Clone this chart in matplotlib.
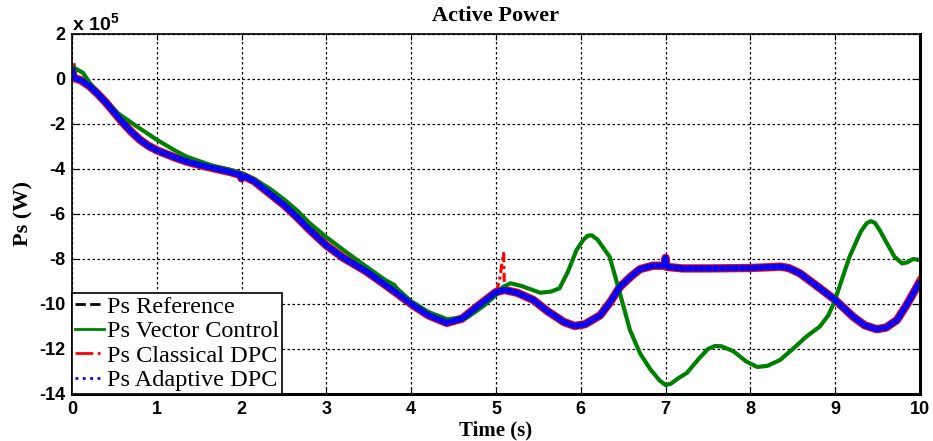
import matplotlib.pyplot as plt
from matplotlib.lines import Line2D
import numpy as np

plt.rcParams['axes.unicode_minus'] = False
plt.rcParams['mathtext.fontset'] = 'custom'
plt.rcParams['mathtext.rm'] = 'Liberation Sans:bold'
plt.rcParams['mathtext.it'] = 'Liberation Sans:bold'
plt.rcParams['mathtext.bf'] = 'Liberation Sans:bold'

# time (s) and stator active power (x 1e5 W)
t_ref = [0, 0.02, 0.1, 0.2, 0.3, 0.4, 0.5, 0.6, 0.7, 0.8, 0.9, 1.0, 1.2, 1.35, 1.5,
         1.67, 1.85, 1.99, 2.0, 2.02, 2.15, 2.33, 2.5, 2.65, 2.8, 3.0, 3.2, 3.47, 3.75,
         4.0, 4.2, 4.42, 4.6, 4.8, 5.0, 5.1, 5.25, 5.44, 5.6, 5.8, 5.93, 6.05, 6.23,
         6.35, 6.46, 6.6, 6.7, 6.85, 6.99, 7.0, 7.01, 7.2, 7.5, 8.0, 8.2, 8.35, 8.45,
         8.58, 8.75, 9.0, 9.21, 9.35, 9.49, 9.6, 9.73, 9.85, 10.0]
p_ref = [0.5, 0.05, -0.05, -0.3, -0.65, -1.05, -1.5, -1.95, -2.35, -2.7, -2.97, -3.17,
         -3.47, -3.67, -3.82, -3.97, -4.12, -4.27, -4.42, -4.3, -4.55, -5.09, -5.6,
         -6.13, -6.7, -7.4, -7.95, -8.55, -9.3, -10.0, -10.5, -10.84, -10.65, -10.05,
         -9.47, -9.38, -9.5, -9.82, -10.3, -10.8, -10.98, -10.9, -10.5, -9.9, -9.25,
         -8.75, -8.45, -8.3, -8.3, -7.95, -8.35, -8.42, -8.42, -8.4, -8.37, -8.34,
         -8.4, -8.63, -9.1, -9.82, -10.56, -10.95, -11.12, -11.05, -10.71, -10.0, -9.0]

t_vc = [0, 0.13, 0.21, 0.37, 0.55, 0.76, 1.0, 1.2, 1.35, 1.5, 1.67, 1.85, 2.0, 2.15,
        2.33, 2.5, 2.65, 2.8, 3.0, 3.2, 3.47, 3.7, 3.8, 3.83, 4.0, 4.2, 4.42, 4.66,
        4.85, 5.0, 5.08, 5.17, 5.3, 5.52, 5.65, 5.75, 5.85, 5.95, 6.03, 6.08, 6.13,
        6.2, 6.34, 6.46, 6.58, 6.7, 6.82, 6.93, 7.0, 7.06, 7.15, 7.25, 7.4, 7.5,
        7.58, 7.66, 7.8, 7.95, 8.08, 8.2, 8.35, 8.5, 8.66, 8.82, 8.92, 9.0, 9.08,
        9.17, 9.3, 9.37, 9.42, 9.47, 9.53, 9.61, 9.7, 9.79, 9.85, 9.92, 10.0]
p_vc = [0.55, 0.27, -0.18, -0.9, -1.55, -2.1, -2.7, -3.15, -3.45, -3.65, -3.87, -4.02,
        -4.19, -4.45, -4.87, -5.35, -5.83, -6.4, -7.03, -7.6, -8.34, -8.95, -9.15,
        -9.3, -9.88, -10.35, -10.67, -10.6, -10.1, -9.6, -9.25, -9.08, -9.2, -9.5,
        -9.45, -9.3, -8.55, -7.6, -7.15, -6.97, -6.95, -7.15, -7.9, -9.5, -11.16,
        -12.2, -12.9, -13.4, -13.6, -13.55, -13.3, -13.07, -12.4, -12.0, -11.87,
        -11.88, -12.1, -12.55, -12.8, -12.75, -12.49, -12.0, -11.45, -11.0, -10.5,
        -9.82, -8.9, -7.9, -6.8, -6.42, -6.32, -6.4, -6.75, -7.3, -7.9, -8.2, -8.15,
        -8.0, -8.05]

# classical DPC follows the reference except for a short spike near 5.1 s
t_spike = [5.0, 5.04, 5.07, 5.09, 5.1]
p_spike = [-9.47, -9.0, -8.2, -7.75, -9.3]

t_cl = np.array(t_ref + t_spike)
p_cl = np.array(p_ref + p_spike)
order = np.argsort(t_cl, kind='stable')
t_cl, p_cl = t_cl[order], p_cl[order]

fig = plt.figure(figsize=(9.33, 4.41), dpi=100)
ax = fig.add_axes([0.0772, 0.1066, 0.9088, 0.8164])

ax.plot(t_ref, p_ref, color='black', linewidth=2, linestyle='--')
# red trace: wide band along the steady part, dash-dot line with the spike
ax.plot(t_ref, p_ref, color='red', linewidth=6, linestyle='-', solid_joinstyle='round')
ax.plot(t_cl, p_cl, color='red', linewidth=2.2, linestyle=(0, (3, 1.2, 1, 1.2)))
ax.plot(t_vc, p_vc, color='green', linewidth=3, linestyle='-')
ax.plot(t_ref, p_ref, color='blue', linewidth=4.5, linestyle=(0, (1, 0.05)))

ax.set_xlim(0, 10)
ax.set_ylim(-14, 2)
ax.set_xticks(np.arange(0, 11, 1))
ax.set_yticks(np.arange(-14, 3, 2))
ax.grid(True, color='black', linestyle=(0, (2, 2)), linewidth=0.9)
ax.tick_params(direction='in', top=True, right=True, length=4,
               labelsize=13, pad=5)
for lab in ax.get_xticklabels() + ax.get_yticklabels():
    lab.set_fontfamily('Liberation Sans')
    lab.set_fontweight('bold')
for s in ax.spines.values():
    s.set_linewidth(1.2)
ax.spines['bottom'].set_linewidth(2.2)
ax.spines['right'].set_linewidth(2.2)

ax.set_title('Active Power', fontfamily='Liberation Serif', fontweight='bold',
             fontsize=16, pad=9)
ax.set_xlabel('Time (s)', fontfamily='Liberation Serif', fontweight='bold',
              fontsize=15, labelpad=2)
ax.set_ylabel('Ps (W)', fontfamily='Liberation Serif', fontweight='bold',
              fontsize=16, labelpad=4)
ax.text(0.0, 1.0, r'x 10$^{5}$', transform=ax.transAxes, fontsize=14,
        fontfamily='Liberation Sans', fontweight='bold', ha='left', va='bottom')

handles = [Line2D([], [], color='black', linewidth=2, linestyle='--'),
           Line2D([], [], color='green', linewidth=2, linestyle='-'),
           Line2D([], [], color='red', linewidth=2, linestyle='-.'),
           Line2D([], [], color='blue', linewidth=2, linestyle=':')]
labels = ['Ps Reference', 'Ps Vector Control', 'Ps Classical DPC', 'Ps Adaptive DPC']
leg = ax.legend(handles, labels, loc='lower left', borderaxespad=0,
                prop={'family': 'Liberation Serif', 'size': 17.5},
                handlelength=1.2, handletextpad=0.12, labelspacing=0.1,
                borderpad=0.12, fancybox=False, framealpha=1)
leg.get_frame().set_edgecolor('black')
leg.get_frame().set_linewidth(1.2)

fig.savefig('out.png', dpi=100)
